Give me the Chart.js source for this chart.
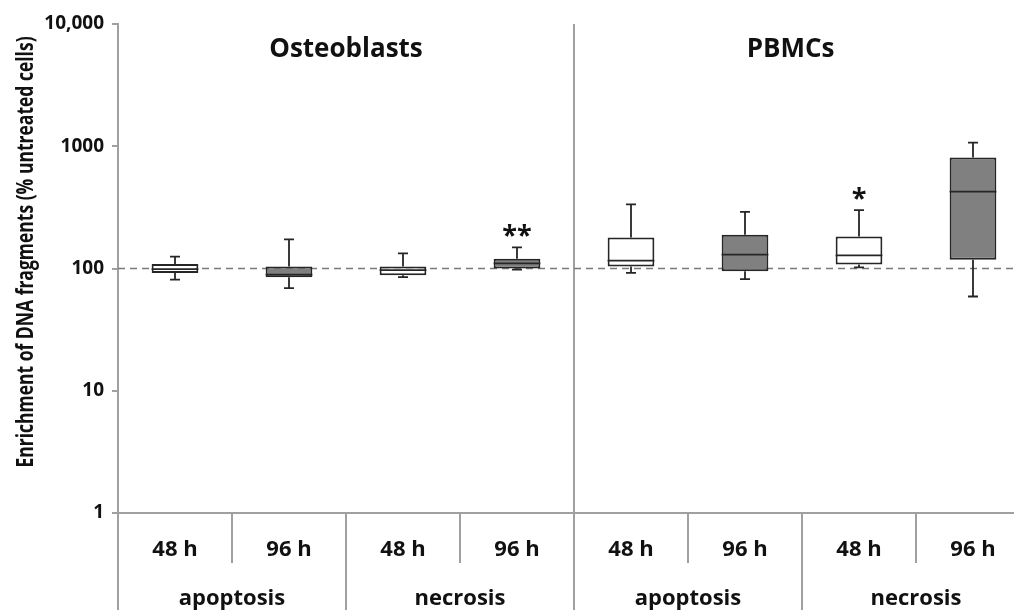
<!DOCTYPE html>
<html>
<head>
<meta charset="utf-8">
<script src="https://cdn.jsdelivr.net/npm/chart.js@4/dist/chart.umd.min.js"></script>
<style>
  html, body { margin: 0; padding: 0; overflow: hidden; background: #fff; }
  #wrap { width: 1030px; height: 610px; }
</style>
</head>
<body>
<div id="wrap"><canvas id="boxChart" width="1030" height="610"></canvas></div>
<script>
// values (log scale, % of untreated cells)
var timepoints = ['48 h', '96 h', '48 h', '96 h', '48 h', '96 h', '48 h', '96 h'];
var treatments = ['apoptosis', 'necrosis', 'apoptosis', 'necrosis'];
var cellTypes = ['Osteoblasts', 'PBMCs'];
var whiskerLow = [81, 69, 85, 98, 92, 82, 102, 59];
var q1 = [92, 85, 88, 100, 104, 95, 108, 118];
var median = [99, 89, 97, 110, 116, 130, 128, 426];
var q3 = [109, 104, 104, 120, 179, 189, 183, 809];
var whiskerHigh = [125, 173, 133, 149, 335, 291, 300, 1070];
var significance = ['', '', '', '**', '', '', '*', ''];
var yTicks = [1, 10, 100, 1000, 10000];
var referenceLevel = 100;
var yTitle = 'Enrichment of DNA fragments (% untreated cells)';

var boxFill = timepoints.map(function(t) { return t === '48 h' ? '#ffffff' : '#808080'; });
var lineGrey = '#a0a0a0';
var ink = '#262626';
var font = 'Open Sans';

var boxExtras = {
	id: 'boxExtras',
	beforeDatasetsDraw: function(chart) {
		var ctx = chart.ctx, area = chart.chartArea;
		var xs = chart.scales.x, ys = chart.scales.y;
		ctx.save();
		// frame lines under the axis
		ctx.strokeStyle = lineGrey;
		ctx.lineWidth = 2;
		ctx.beginPath();
		ctx.moveTo(area.left, area.bottom);
		ctx.lineTo(area.right, area.bottom);
		ctx.moveTo(area.left, area.bottom);
		ctx.lineTo(area.left, chart.height);
		for (var i = 0; i < timepoints.length - 1; i++) {
			var b = (xs.getPixelForValue(i) + xs.getPixelForValue(i + 1)) / 2;
			if (i === 3) {
				ctx.moveTo(b, area.top);
				ctx.lineTo(b, chart.height);
			} else if (i % 2 === 1) {
				ctx.moveTo(b, area.bottom);
				ctx.lineTo(b, chart.height);
			} else {
				ctx.moveTo(b, area.bottom);
				ctx.lineTo(b, area.bottom + 50);
			}
		}
		ctx.stroke();

		// reference line at 100 %
		var yr = ys.getPixelForValue(referenceLevel);
		ctx.strokeStyle = '#7a7a7a';
		ctx.lineWidth = 1.6;
		ctx.setLineDash([7, 5]);
		ctx.beginPath();
		ctx.moveTo(area.left, yr);
		ctx.lineTo(area.right, yr);
		ctx.stroke();
		ctx.restore();
	},
	afterDatasetsDraw: function(chart) {
		var ctx = chart.ctx;
		var xs = chart.scales.x, ys = chart.scales.y;
		var meta = chart.getDatasetMeta(0);
		ctx.save();
		ctx.strokeStyle = ink;
		ctx.lineWidth = 1.8;
		meta.data.forEach(function(bar, i) {
			var cx = xs.getPixelForValue(i);
			var half = bar.width / 2;
			var yHi = ys.getPixelForValue(whiskerHigh[i]);
			var yLo = ys.getPixelForValue(whiskerLow[i]);
			ctx.beginPath();
			ctx.moveTo(cx, ys.getPixelForValue(q3[i]));
			ctx.lineTo(cx, yHi);
			ctx.moveTo(cx - 5, yHi);
			ctx.lineTo(cx + 5, yHi);
			ctx.moveTo(cx, ys.getPixelForValue(q1[i]));
			ctx.lineTo(cx, yLo);
			ctx.moveTo(cx - 5, yLo);
			ctx.lineTo(cx + 5, yLo);
			var ym = ys.getPixelForValue(median[i]);
			ctx.moveTo(cx - half, ym);
			ctx.lineTo(cx + half, ym);
			ctx.stroke();

			if (significance[i]) {
				ctx.fillStyle = '#111';
				ctx.font = 'bold 27px "' + font + '"';
				ctx.textAlign = 'center';
				ctx.textBaseline = 'alphabetic';
				ctx.fillText(significance[i], cx, yHi - 3);
			}
		});

		// panel titles
		var titleAt = [1.5, 5.4];
		ctx.fillStyle = '#111';
		ctx.font = 'bold 26px "' + font + '"';
		ctx.textAlign = 'center';
		ctx.textBaseline = 'alphabetic';
		cellTypes.forEach(function(name, k) {
			ctx.fillText(name, xs.getPixelForValue(titleAt[k]), 57);
		});

		// y axis title (a bit stretched across, like the original)
		ctx.save();
		ctx.translate(33, 252);
		ctx.rotate(-Math.PI / 2);
		ctx.scale(1, 1.3);
		ctx.font = 'bold 17.5px "' + font + '"';
		ctx.fillText(yTitle, 0, 0);
		ctx.restore();
		ctx.restore();
	}
};

var labelFont = { family: font, weight: 'bold', size: 22 };

new Chart(document.getElementById('boxChart'), {
	type: 'bar',
	data: {
		labels: timepoints,
		datasets: [{
			data: q1.map(function(v, i) { return [v, q3[i]]; }),
			backgroundColor: boxFill,
			borderColor: ink,
			borderWidth: 2,
			borderSkipped: false,
			barPercentage: 0.41,
			categoryPercentage: 1
		}]
	},
	options: {
		responsive: false,
		animation: false,
		devicePixelRatio: 1,
		layout: { padding: { top: 24, left: 0, right: 0, bottom: 0 } },
		plugins: { legend: { display: false }, tooltip: { enabled: false } },
		scales: {
			x: {
				type: 'category',
				position: 'bottom',
				offset: true,
				grid: { display: false, drawTicks: false },
				border: { display: false },
				ticks: { font: labelFont, color: '#111', padding: 24, maxRotation: 0, autoSkip: false },
				afterFit: function(s) { s.height = 62; }
			},
			x2: {
				type: 'category',
				labels: treatments,
				position: 'bottom',
				offset: true,
				grid: { display: false, drawTicks: false },
				border: { display: false },
				ticks: { font: labelFont, color: '#111', padding: 11, maxRotation: 0, autoSkip: false },
				afterFit: function(s) { s.height = 35; }
			},
			y: {
				type: 'logarithmic',
				min: 1,
				max: 10000,
				afterBuildTicks: function(s) {
					s.ticks = yTicks.map(function(v) { return { value: v }; });
				},
				ticks: {
					font: { family: font, weight: 'bold', size: 19 },
					color: '#111',
					padding: 8,
					callback: function(v) { return v === 10000 ? '10,000' : String(v); }
				},
				grid: { drawOnChartArea: false, tickLength: 6, color: lineGrey, lineWidth: 2 },
				border: { color: lineGrey, width: 2 },
				afterFit: function(s) { s.width = 118; }
			}
		}
	},
	plugins: [boxExtras]
});
</script>
</body>
</html>
